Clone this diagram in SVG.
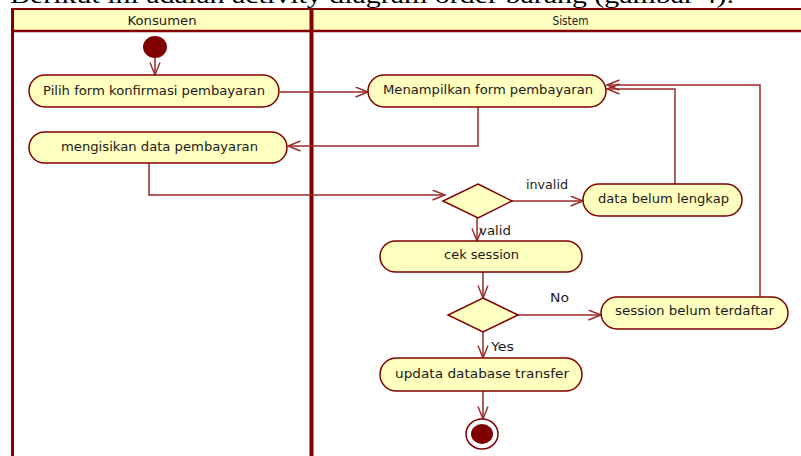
<svg xmlns="http://www.w3.org/2000/svg" width="801" height="456" viewBox="0 0 801 456">
<style>
.act{fill:#FFFFC0;stroke:#800000;stroke-width:1.5}
.dec{fill:#FFFFC0;stroke:#800000;stroke-width:1.5}
.lbl{font-family:"DejaVu Sans","Liberation Sans",sans-serif;font-size:13px;fill:#1a1a1a}
.hdr{font-family:"DejaVu Sans","Liberation Sans",sans-serif;font-size:12px;fill:#1a1a1a}
.cl{fill:none;stroke:#9A2A2A;stroke-width:1.5}
.lane{stroke:#800000;fill:none}
</style>
<defs>
<marker id="arr" markerWidth="15" markerHeight="12" refX="13" refY="5.5" orient="auto" markerUnits="userSpaceOnUse">
<path d="M0.5,0.5 L13,5.5 L0.5,10.5" fill="none" stroke="#9A2A2A" stroke-width="1.4"/>
</marker>
</defs>
<rect width="801" height="456" fill="#ffffff"/>
<text x="10" y="2.5" font-family="'Liberation Serif',serif" font-size="24" fill="#000" textLength="724" lengthAdjust="spacingAndGlyphs">Berikut ini adalah activity diagram order barang (gambar 4).</text>
<g id="lanes">
<rect x="12" y="9" width="800" height="22" fill="#FFFFC0"/>
<line class="lane" x1="12" y1="9" x2="801" y2="9" stroke-width="2"/>
<line class="lane" x1="12" y1="31" x2="801" y2="31" stroke-width="2.5"/>
<line class="lane" x1="12.5" y1="8" x2="12.5" y2="456" stroke-width="3"/>
<line class="lane" x1="311.5" y1="8" x2="311.5" y2="456" stroke-width="4"/>
<text class="hdr" x="162" y="25" text-anchor="middle" textLength="69" lengthAdjust="spacingAndGlyphs">Konsumen</text>
<text class="hdr" x="570.5" y="25" text-anchor="middle" textLength="36" lengthAdjust="spacingAndGlyphs">Sistem</text>
</g>
<g id="connectors">
<path class="cl" d="M155,58 L155,75" marker-end="url(#arr)"/>
<path class="cl" d="M280,92 L368,92" marker-end="url(#arr)"/>
<path class="cl" d="M478,107 L478,146 L288,146" marker-end="url(#arr)"/>
<path class="cl" d="M149,163 L149,195 L445,195" marker-end="url(#arr)"/>
<path class="cl" d="M512,201 L583,201" marker-end="url(#arr)"/>
<path class="cl" d="M675,184 L675,89 L607,89" marker-end="url(#arr)"/>
<path class="cl" d="M760,297 L760,85 L607,85" marker-end="url(#arr)"/>
<path class="cl" d="M477,218 L477,241" marker-end="url(#arr)"/>
<path class="cl" d="M483,272 L483,298" marker-end="url(#arr)"/>
<path class="cl" d="M518,315 L601,315" marker-end="url(#arr)"/>
<path class="cl" d="M483,332 L483,358" marker-end="url(#arr)"/>
<path class="cl" d="M483,391 L483,419" marker-end="url(#arr)"/>
<text class="lbl" x="526" y="189" textLength="42" lengthAdjust="spacingAndGlyphs">invalid</text>
<text class="lbl" x="479" y="235" textLength="32" lengthAdjust="spacingAndGlyphs">valid</text>
<text class="lbl" x="550" y="302" textLength="19" lengthAdjust="spacingAndGlyphs">No</text>
<text class="lbl" x="491" y="351" textLength="23" lengthAdjust="spacingAndGlyphs">Yes</text>
</g>
<g id="start"><ellipse cx="155" cy="47" rx="12" ry="11" fill="#800000"/></g>
<g id="pilih-form">
<rect class="act" x="29" y="75" width="250" height="32" rx="16"/>
<text class="lbl" x="154" y="95" text-anchor="middle" textLength="222" lengthAdjust="spacingAndGlyphs">Pilih form konfirmasi pembayaran</text>
</g>
<g id="mengisikan">
<rect class="act" x="29" y="132" width="258" height="31" rx="15.5"/>
<text class="lbl" x="159.5" y="151" text-anchor="middle" textLength="197" lengthAdjust="spacingAndGlyphs">mengisikan data pembayaran</text>
</g>
<g id="menampilkan">
<rect class="act" x="368" y="75" width="238" height="32" rx="16"/>
<text class="lbl" x="488" y="94" text-anchor="middle" textLength="210" lengthAdjust="spacingAndGlyphs">Menampilkan form pembayaran</text>
</g>
<g id="decision1"><polygon class="dec" points="478,184 512,201 478,218 443,201"/></g>
<g id="data-belum-lengkap">
<rect class="act" x="583" y="184" width="159" height="32" rx="16"/>
<text class="lbl" x="663.5" y="203" text-anchor="middle" textLength="131" lengthAdjust="spacingAndGlyphs">data belum lengkap</text>
</g>
<g id="cek-session">
<rect class="act" x="380" y="241" width="202" height="31" rx="15.5"/>
<text class="lbl" x="481.5" y="259" text-anchor="middle" textLength="75" lengthAdjust="spacingAndGlyphs">cek session</text>
</g>
<g id="decision2"><polygon class="dec" points="483,298 518,315 483,332 448,315"/></g>
<g id="session-belum-terdaftar">
<rect class="act" x="601" y="297" width="187" height="32" rx="16"/>
<text class="lbl" x="694.5" y="315" text-anchor="middle" textLength="159" lengthAdjust="spacingAndGlyphs">session belum terdaftar</text>
</g>
<g id="updata-database">
<rect class="act" x="380" y="358" width="202" height="33" rx="16.5"/>
<text class="lbl" x="482" y="378" text-anchor="middle" textLength="174" lengthAdjust="spacingAndGlyphs">updata database transfer</text>
</g>
<g id="end">
<ellipse cx="482" cy="434" rx="16" ry="15" fill="#ffffff" stroke="#800000" stroke-width="1.5"/>
<ellipse cx="482" cy="434" rx="11" ry="10" fill="#800000"/>
</g>
</svg>
